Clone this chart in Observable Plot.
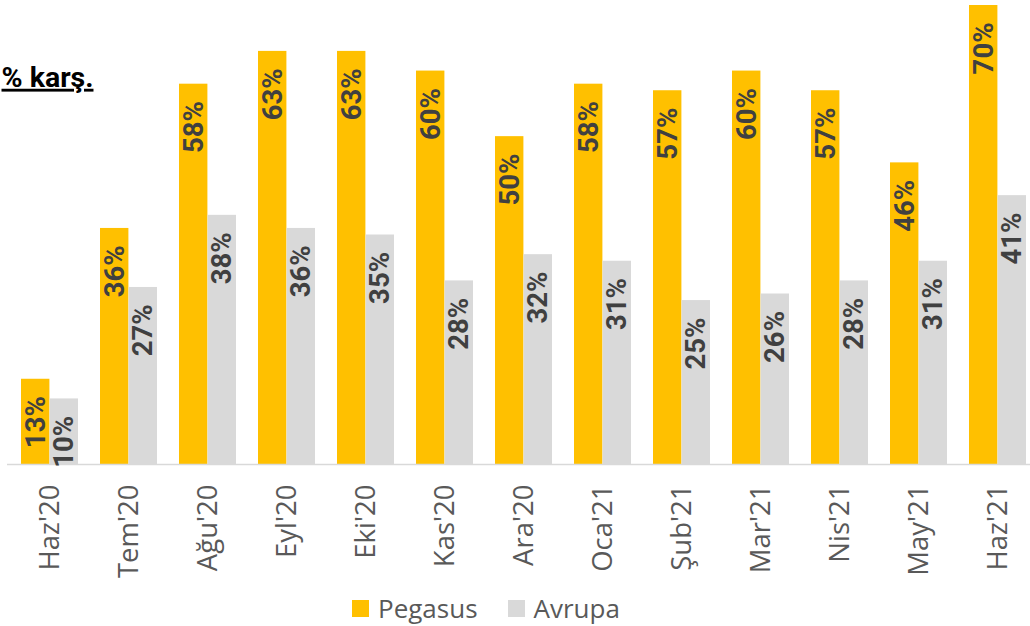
<!DOCTYPE html>
<html><head><meta charset="utf-8">
<script src="https://cdn.jsdelivr.net/npm/d3@7"></script>
<script src="https://cdn.jsdelivr.net/npm/@observablehq/plot@0.6"></script>
<style>
body{margin:0;background:#fff;}
#wrap{width:1030px;height:626px;overflow:hidden;}
#legend{height:36px;display:flex;align-items:center;padding-left:352px;font-family:"Open Sans",sans-serif;font-size:26px;color:#595959;}
.item{display:flex;align-items:center;margin-right:30px;}
.sw{width:17px;height:17px;margin-right:9px;display:inline-block;}
</style>
</head><body><div id="wrap"><div id="chart"></div><div id="legend"></div></div>
<script>
const months = ["Haz'20","Tem'20","Ağu'20","Eyl'20","Eki'20","Kas'20","Ara'20","Oca'21","Şub'21","Mar'21","Nis'21","May'21","Haz'21"];
const pegasus = [13,36,58,63,63,60,50,58,57,60,57,46,70];
const avrupa  = [10,27,38,36,35,28,32,31,25,26,28,31,41];
const seriesNames = ["Pegasus","Avrupa"];
const seriesColors = ["#FFC000","#D9D9D9"];
const title = "% karş.";

const pegData = months.map((m,i)=>({month:m, series:seriesNames[0], value:pegasus[i]}));
const avrData = months.map((m,i)=>({month:m, series:seriesNames[1], value:avrupa[i]}));

const labelFont = 'Roboto,"Liberation Sans",sans-serif';
const half = 28.6;
const labelOpts = {x:"month", y:"value", text:d=>d.value+"%", rotate:-90, textAnchor:"end", dy:17,
  fontSize:27.5, fontWeight:"bold", fontFamily:labelFont, fill:"#404040"};

const chart = Plot.plot({
  width:1030, height:590,
  marginLeft:7, marginRight:0, marginTop:5, marginBottom:126,
  style:{fontFamily:'"Open Sans",sans-serif', fontSize:"27.5px", color:"#595959", background:"#fff", overflow:"hidden"},
  x:{domain:months, range:[7,1039], paddingInner:0.28, paddingOuter:0.14, tickRotate:-90, tickSize:0, tickPadding:20, label:null},
  y:{domain:[0,70], axis:null},
  marks:[
    Plot.barY(pegData, {x:"month", y:"value", fill:seriesColors[0], insetRight:half}),
    Plot.barY(avrData, {x:"month", y:"value", fill:seriesColors[1], insetLeft:half}),
    Plot.ruleY([0], {stroke:"#D9D9D9", strokeWidth:1.5}),
    Plot.text(pegData, {...labelOpts, dx:-half/2}),
    Plot.text(avrData, {...labelOpts, dx:half/2}),
    Plot.text([title], {frameAnchor:"top-left", textAnchor:"start", lineAnchor:"top", dx:-6, dy:61,
      fontSize:28.5, fontWeight:"bold", fontFamily:labelFont, fill:"#000", className:"ttl"})
  ]
});
document.getElementById("chart").appendChild(chart);
d3.select(chart).selectAll(".ttl text").style("text-decoration","underline");

const lg = d3.select("#legend");
seriesNames.forEach((s,i)=>{
  const it = lg.append("div").attr("class","item");
  it.append("span").attr("class","sw").style("background",seriesColors[i]);
  it.append("span").text(s);
});
</script>
</body></html>
